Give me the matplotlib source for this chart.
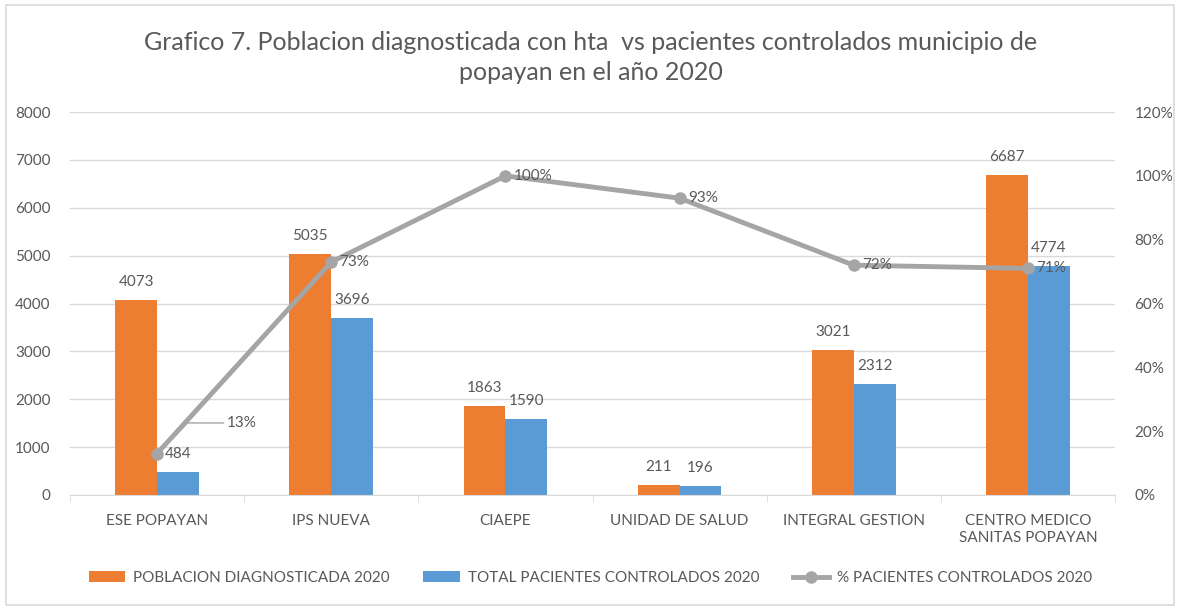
import matplotlib.pyplot as plt
import numpy as np
from matplotlib.patches import Rectangle

plt.rcParams['font.family'] = ['Lato', 'DejaVu Sans']

# Data
categories = ["ESE POPAYAN", "IPS NUEVA", "CIAEPE", "UNIDAD DE SALUD",
              "INTEGRAL GESTION", "CENTRO MEDICO\nSANITAS POPAYAN"]
diagnosticada = [4073, 5035, 1863, 211, 3021, 6687]
controlados = [484, 3696, 1590, 196, 2312, 4774]
pct_controlados = [0.13, 0.73, 1.00, 0.93, 0.72, 0.71]

orange = "#ED7D31"
blue = "#5B9BD5"
gray = "#A5A5A5"
txt = "#595959"

fig = plt.figure(figsize=(11.81, 6.09), dpi=100)
ax = fig.add_axes([70 / 1181, 1 - 495 / 609, 1045 / 1181, 383 / 609])
ax2 = ax.twinx()

x = np.arange(len(categories))
w = 0.24
b1 = ax.bar(x - w / 2, diagnosticada, w, color=orange, label="POBLACION DIAGNOSTICADA 2020", zorder=2)
b2 = ax.bar(x + w / 2, controlados, w, color=blue, label="TOTAL PACIENTES CONTROLADOS 2020", zorder=2)

for rect, v in zip(b1, diagnosticada):
    ax.annotate(str(v), (rect.get_x() + rect.get_width() / 2, v), xytext=(0, 8),
                textcoords="offset points", ha="center", va="bottom", fontsize=11, color=txt)
for rect, v in zip(b2, controlados):
    ax.annotate(str(v), (rect.get_x() + rect.get_width() / 2, v), xytext=(0, 8),
                textcoords="offset points", ha="center", va="bottom", fontsize=11, color=txt)

ax.set_xlim(-0.5, len(categories) - 0.5)
ax.set_ylim(0, 8000)
ax.set_yticks(range(0, 8001, 1000))
ax.yaxis.grid(True, color="#D9D9D9", linewidth=1, zorder=0)
ax.set_axisbelow(True)
ax.set_xticks(x)
ax.set_xticklabels(categories, fontsize=11, color=txt)
ax.set_xticks(np.arange(-0.5, len(categories), 1), minor=True)
ax.tick_params(axis="x", which="major", length=0, pad=14)
ax.tick_params(axis="x", which="minor", length=5, color="#D9D9D9", direction="out")
ax.tick_params(axis="y", length=0, labelsize=11, labelcolor=txt, pad=14)
for s in ["top", "right", "left"]:
    ax.spines[s].set_visible(False)
ax.spines["bottom"].set_color("#D9D9D9")

ln, = ax2.plot(x, pct_controlados, color=gray, linewidth=3.5, marker="o", markersize=8,
               label="% PACIENTES CONTROLADOS 2020", zorder=3)
ax2.set_ylim(0, 1.2)
ax2.set_yticks(np.arange(0, 1.21, 0.2))
ax2.set_yticklabels([f"{int(round(t * 100))}%" for t in np.arange(0, 1.21, 0.2)])
ax2.tick_params(axis="y", length=0, labelsize=11, labelcolor=txt, pad=14)
for s in ["top", "right", "left", "bottom"]:
    ax2.spines[s].set_visible(False)

for i, p in enumerate(pct_controlados):
    label = f"{int(round(p * 100))}%"
    if i == 0:
        ax2.annotate(label, (x[i], p), xytext=(50, 22), textcoords="offset points",
                     ha="left", va="center", fontsize=11, color=txt,
                     arrowprops=dict(arrowstyle="-", color=gray, linewidth=1,
                                     shrinkA=0, shrinkB=0,
                                     connectionstyle="angle,angleA=0,angleB=45,rad=0",
                                     relpos=(0, 0.5)))
    else:
        ax2.annotate(label, (x[i], p), xytext=(6, 0), textcoords="offset points",
                     ha="left", va="center", fontsize=11, color=txt)

fig.text(0.5, 1 - 42 / 609, "Grafico 7. Poblacion diagnosticada con hta  vs pacientes controlados municipio de",
         ha="center", va="center", fontsize=18, color=txt)
fig.text(0.5, 1 - 73 / 609, "popayan en el año 2020", ha="center", va="center", fontsize=18, color=txt)

handles = [b1, b2, ln]
fig.legend(handles, [h.get_label() for h in handles], loc="center", ncol=3,
           bbox_to_anchor=(0.5, 1 - 578 / 609), frameon=False, fontsize=11,
           labelcolor=txt, columnspacing=2.2, handlelength=2.4, handletextpad=0.5)

fig.patches.append(Rectangle((6 / 1181, 4 / 609), 1168 / 1181, 600 / 609, transform=fig.transFigure,
                             fill=False, edgecolor="#D9D9D9", linewidth=1.2))

fig.savefig("out.png", dpi=100)
